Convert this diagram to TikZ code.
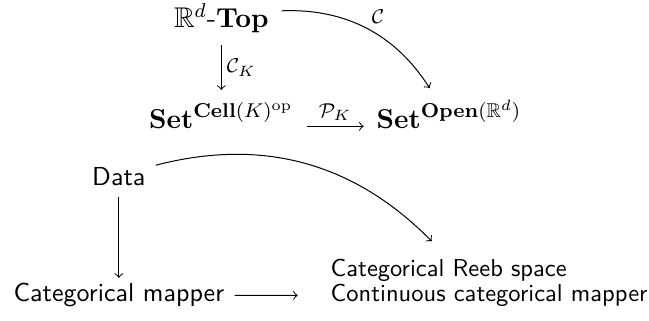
\documentclass[tikz,border=0pt]{standalone}
\usepackage{amsmath,amssymb}
\usepackage{tikz}
\usetikzlibrary{positioning}
\tikzset{
  mnode/.style={anchor=base,inner sep=3pt,font=\fontsize{11.4}{14}\selectfont},
  tnode/.style={anchor=base,inner sep=2pt,font=\sffamily\fontsize{10.4}{12}\selectfont},
  snode/.style={anchor=base west,inner sep=2pt,font=\sffamily\fontsize{9.8}{12}\selectfont},
  lbl/.style={font=\footnotesize,inner sep=2pt},
  arr/.style={->,shorten <=2pt,shorten >=2pt},
}
\begin{document}
\begin{tikzpicture}
    \useasboundingbox (0,0) rectangle (9.12,4.51);
    %% Top diagram
    \node[mnode] (Rtop)    at (3.11,4.13) {$\mathbb{R}^d$-$\mathbf{Top}$};
    \node[mnode] (SetCell) at (3.11,2.70) {$\mathbf{Set}^{\mathbf{Cell}(K)^{\mathrm{op}}}$};
    \node[mnode] (SetOpen) at (6.31,2.70) {$\mathbf{Set}^{\mathbf{Open}(\mathbb{R}^d)}$};
    %% Bottom diagram
    \node[tnode] (data)    at (1.67,1.90) {Data};
    \node[tnode] (catmap)  at (1.67,0.27) {Categorical mapper};
    \node[snode] (reeb)    at (4.57,0.63) {Categorical Reeb space};
    \node[snode] (contmap) at (4.57,0.27) {Continuous categorical mapper};
    %% Arrows
    \draw[arr] (Rtop) -- node[right,lbl]{$\mathcal{C}_K$} (SetCell);
    \draw[arr] ([yshift=1pt]SetCell.base east) -- node[above,lbl]{$\mathcal{P}_K$} ([yshift=1pt]SetOpen.base west);
    \draw[arr] (Rtop) to[bend left=30] node[midway,above right,lbl]{$\mathcal{C}$} (SetOpen);
    \draw[arr,shorten >=0pt] (data) -- (catmap);
    \draw[arr] (data) to[bend left=30] ([xshift=-5.4pt,yshift=3.4pt]reeb.north);
    \draw[arr,shorten >=11pt] (catmap) -- (contmap);
  \end{tikzpicture}
\end{document}
